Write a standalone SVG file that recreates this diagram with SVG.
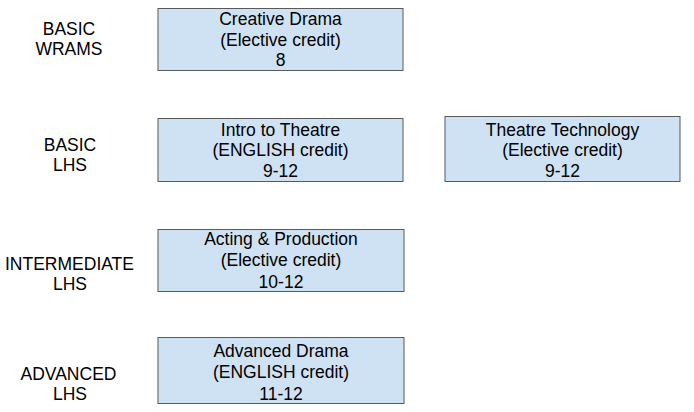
<svg xmlns="http://www.w3.org/2000/svg" width="694" height="412" viewBox="0 0 694 412">
<style>
.box{fill:#cfe2f3;stroke:#595959;stroke-width:1}
text{font-family:"Liberation Sans",Arial,sans-serif;font-size:17.5px;fill:#000;text-anchor:middle}
</style>
<rect width="694" height="412" fill="#fff"/>
<g id="labels">
<text x="69" y="35">BASIC</text><text x="69" y="55">WRAMS</text>
<text x="70" y="151">BASIC</text><text x="70" y="171">LHS</text>
<text x="69.5" y="270">INTERMEDIATE</text><text x="70" y="290">LHS</text>
<text x="68.5" y="380">ADVANCED</text><text x="70" y="400">LHS</text>
</g>
<g id="creative-drama">
<rect class="box" x="158" y="8.5" width="245" height="62"/>
<text x="280.5" y="25">Creative Drama</text><text x="280.5" y="46">(Elective credit)</text><text x="280.5" y="66">8</text>
</g>
<g id="intro-theatre">
<rect class="box" x="158" y="118.5" width="245" height="63"/>
<text x="280.5" y="136">Intro to Theatre</text><text x="280.5" y="156">(ENGLISH credit)</text><text x="280.5" y="177">9-12</text>
</g>
<g id="theatre-technology">
<rect class="box" x="445" y="116.5" width="235" height="65"/>
<text x="562.5" y="136">Theatre Technology</text><text x="562.5" y="156">(Elective credit)</text><text x="562.5" y="177">9-12</text>
</g>
<g id="acting-production">
<rect class="box" x="158" y="229.5" width="246" height="62"/>
<text x="281" y="245">Acting &amp; Production</text><text x="281" y="266">(Elective credit)</text><text x="281" y="288">10-12</text>
</g>
<g id="advanced-drama">
<rect class="box" x="158" y="337.5" width="246" height="66"/>
<text x="281" y="357">Advanced Drama</text><text x="281" y="378">(ENGLISH credit)</text><text x="281" y="400">11-12</text>
</g>
<g id="connectors"></g>
</svg>
